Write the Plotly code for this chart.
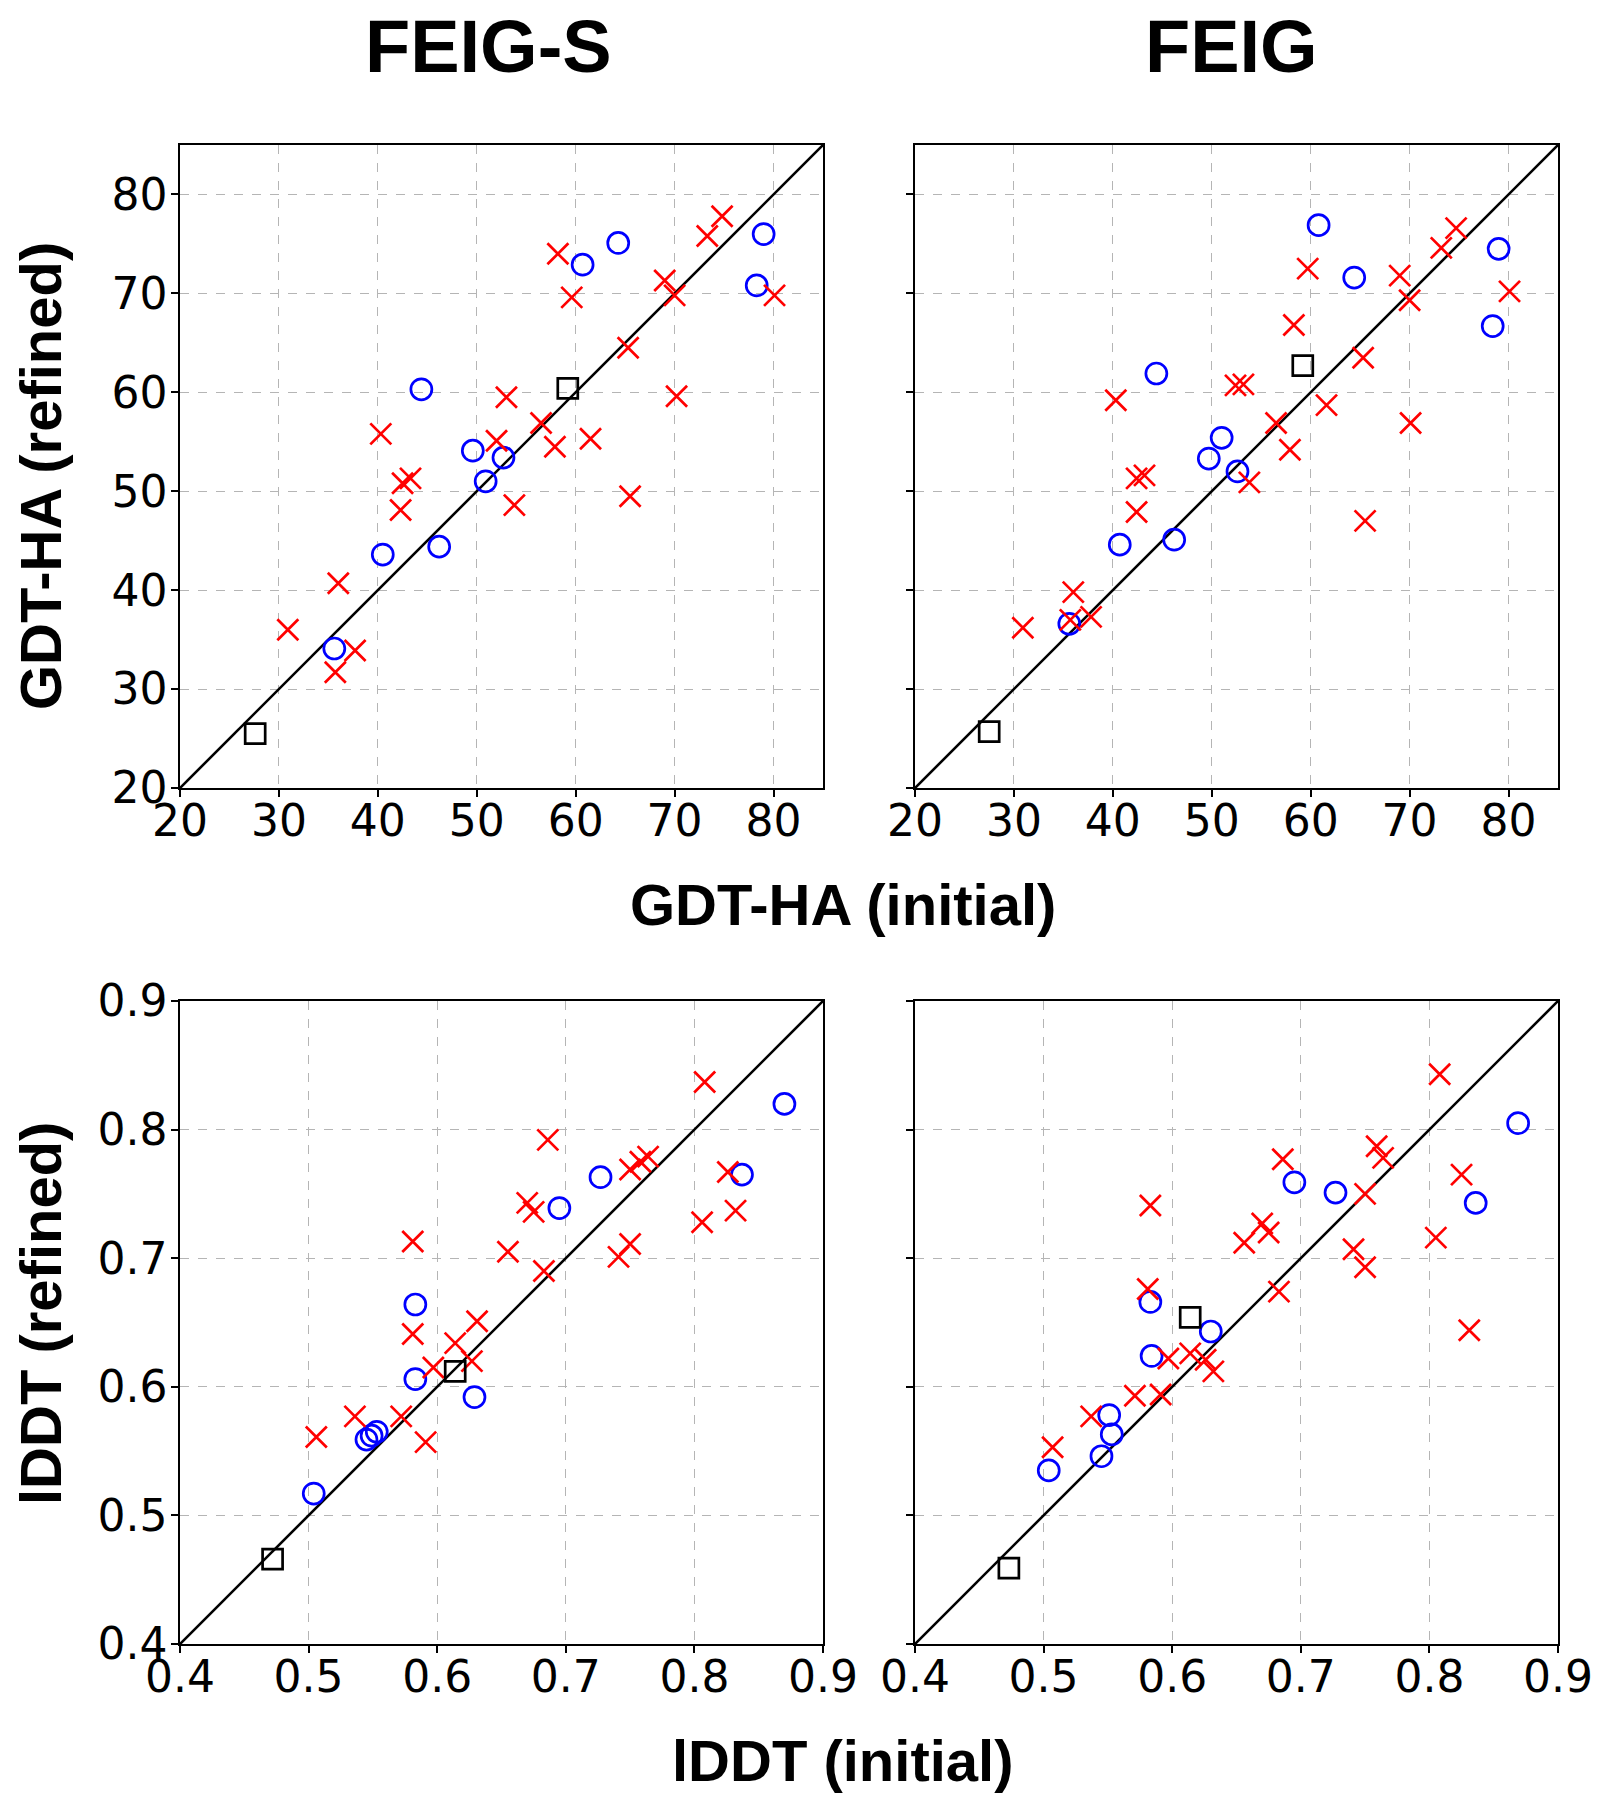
import plotly.graph_objects as go

# ---------------- DATA ----------------
# GDT-HA, FEIG-S
gdt_s_circle_x = [44.4, 49.6, 60.7, 64.3, 79.0, 78.3, 52.7, 50.9, 40.5, 46.2, 35.6]
gdt_s_circle_y = [60.3, 54.1, 72.9, 75.1, 76.0, 70.8, 53.4, 51.0, 43.6, 44.4, 34.1]
gdt_s_cross_x = [40.3, 58.2, 74.8, 73.3, 80.1, 59.6, 69.0, 70.0, 65.3, 70.2, 53.0, 56.5,
                 57.9, 61.5, 52.0, 42.5, 43.3, 42.3, 36.0, 30.9, 37.7, 35.7, 53.8, 65.5]
gdt_s_cross_y = [55.8, 74.0, 77.8, 75.8, 69.8, 69.6, 71.3, 69.8, 64.5, 59.6, 59.5, 56.9,
                 54.5, 55.3, 55.1, 50.8, 51.3, 48.1, 40.7, 36.0, 33.9, 31.7, 48.6, 49.5]
gdt_s_square_x = [59.2, 27.6]
gdt_s_square_y = [60.4, 25.5]

# GDT-HA, FEIG
gdt_f_circle_x = [44.4, 51.0, 49.7, 60.8, 64.4, 79.0, 78.4, 52.6, 46.2, 40.7, 35.6]
gdt_f_circle_y = [61.9, 55.4, 53.3, 76.9, 71.6, 74.5, 66.7, 52.0, 45.1, 44.6, 36.6]
gdt_f_cross_x = [40.3, 59.7, 69.0, 70.0, 74.7, 73.2, 80.1, 58.3, 65.3, 52.4, 53.2, 61.6,
                 56.5, 70.1, 57.9, 53.8, 65.5, 42.4, 43.2, 42.4, 36.0, 30.9, 37.8, 35.7]
gdt_f_cross_y = [59.2, 72.5, 71.8, 69.3, 76.6, 74.6, 70.2, 66.8, 63.5, 60.7, 60.8, 58.7,
                 56.9, 56.9, 54.2, 50.9, 47.0, 51.3, 51.6, 47.9, 39.8, 36.2, 37.3, 37.0]
gdt_f_square_x = [59.2, 27.5]
gdt_f_square_y = [62.7, 25.7]

# lDDT, FEIG-S
lddt_s_circle_x = [0.870, 0.837, 0.727, 0.695, 0.583, 0.583, 0.629, 0.545, 0.549, 0.553, 0.504]
lddt_s_circle_y = [0.820, 0.765, 0.763, 0.739, 0.664, 0.606, 0.592, 0.559, 0.562, 0.565, 0.517]
lddt_s_cross_x = [0.808, 0.686, 0.750, 0.758, 0.764, 0.826, 0.832, 0.806, 0.750, 0.741, 0.670, 0.675,
                  0.581, 0.655, 0.683, 0.631, 0.581, 0.614, 0.627, 0.597, 0.536, 0.572, 0.506, 0.591]
lddt_s_cross_y = [0.837, 0.792, 0.769, 0.775, 0.779, 0.767, 0.737, 0.728, 0.711, 0.701, 0.743, 0.736,
                  0.713, 0.705, 0.690, 0.651, 0.641, 0.634, 0.620, 0.615, 0.577, 0.577, 0.561, 0.557]
lddt_s_square_x = [0.614, 0.472]
lddt_s_square_y = [0.612, 0.466]

# lDDT, FEIG
lddt_f_circle_x = [0.869, 0.695, 0.727, 0.836, 0.583, 0.630, 0.584, 0.551, 0.553, 0.545, 0.504]
lddt_f_circle_y = [0.805, 0.759, 0.751, 0.743, 0.666, 0.643, 0.624, 0.578, 0.563, 0.546, 0.535]
lddt_f_cross_x = [0.808, 0.686, 0.759, 0.764, 0.750, 0.825, 0.741, 0.750, 0.805, 0.831, 0.583, 0.670,
                  0.675, 0.656, 0.683, 0.581, 0.597, 0.614, 0.626, 0.632, 0.571, 0.591, 0.537, 0.507]
lddt_f_cross_y = [0.843, 0.777, 0.787, 0.778, 0.750, 0.765, 0.707, 0.693, 0.716, 0.644, 0.741, 0.727,
                  0.720, 0.712, 0.674, 0.676, 0.622, 0.626, 0.621, 0.612, 0.593, 0.594, 0.577, 0.553]
lddt_f_square_x = [0.614, 0.473]
lddt_f_square_y = [0.654, 0.459]

gdt_range = [20, 85]
gdt_ticks = [20, 30, 40, 50, 60, 70, 80]
lddt_range = [0.4, 0.9]
lddt_ticks = [0.4, 0.5, 0.6, 0.7, 0.8, 0.9]
lddt_ticklabels = ["0.4", "0.5", "0.6", "0.7", "0.8", "0.9"]

col_titles = ["FEIG-S", "FEIG"]
x_labels = ["GDT-HA (initial)", "lDDT (initial)"]
y_labels = ["GDT-HA (refined)", "lDDT (refined)"]

# ---------------- FIGURE ----------------
W, H = 1598, 1800
fig = go.Figure()

panels = [
    (gdt_s_circle_x, gdt_s_circle_y, gdt_s_cross_x, gdt_s_cross_y, gdt_s_square_x, gdt_s_square_y, gdt_range),
    (gdt_f_circle_x, gdt_f_circle_y, gdt_f_cross_x, gdt_f_cross_y, gdt_f_square_x, gdt_f_square_y, gdt_range),
    (lddt_s_circle_x, lddt_s_circle_y, lddt_s_cross_x, lddt_s_cross_y, lddt_s_square_x, lddt_s_square_y, lddt_range),
    (lddt_f_circle_x, lddt_f_circle_y, lddt_f_cross_x, lddt_f_cross_y, lddt_f_square_x, lddt_f_square_y, lddt_range),
]

# pixel boxes (left, right, top, bottom)
col_px = [(180, 823), (915, 1558)]
row_px = [(145, 788), (1001, 1644)]

MS = 21
LW = 2.7
for i, (cx, cy, xx, xy, sx, sy, rng) in enumerate(panels):
    n = i + 1
    xa = "x" if n == 1 else f"x{n}"
    ya = "y" if n == 1 else f"y{n}"
    fig.add_trace(go.Scatter(x=rng, y=rng, mode="lines", line=dict(color="black", width=2.6),
                             xaxis=xa, yaxis=ya, showlegend=False, hoverinfo="skip"))
    fig.add_trace(go.Scatter(x=cx, y=cy, mode="markers", xaxis=xa, yaxis=ya, showlegend=False,
                             marker=dict(symbol="circle-open", size=MS, color="#0000ff",
                                         line=dict(width=LW, color="#0000ff"))))
    fig.add_trace(go.Scatter(x=xx, y=xy, mode="markers", xaxis=xa, yaxis=ya, showlegend=False,
                             marker=dict(symbol="x-thin-open", size=MS, color="#ff0000",
                                         line=dict(width=LW, color="#ff0000"))))
    fig.add_trace(go.Scatter(x=sx, y=sy, mode="markers", xaxis=xa, yaxis=ya, showlegend=False,
                             marker=dict(symbol="square-open", size=MS - 1, color="black",
                                         line=dict(width=LW, color="black"))))

tick_font = dict(family="DejaVu Sans", size=44, color="black")
layout = {}
for i in range(4):
    n = i + 1
    r, c = divmod(i, 2)
    l, rr = col_px[c]
    t, b = row_px[r]
    xdom = [l / W, rr / W]
    ydom = [1 - b / H, 1 - t / H]
    if r == 0:
        rng, tv, tt = gdt_range, gdt_ticks, [str(v) for v in gdt_ticks]
    else:
        rng, tv, tt = lddt_range, lddt_ticks, lddt_ticklabels
    common = dict(range=rng, tickmode="array", tickvals=tv, showline=True, mirror=True,
                  linecolor="black", linewidth=1.6, ticks="outside", ticklen=7, tickwidth=1.6,
                  tickcolor="black", showgrid=True, gridcolor="#b5b5b5", gridwidth=1,
                  griddash="dash", zeroline=False, tickfont=tick_font, automargin=False)
    xkey = "xaxis" if n == 1 else f"xaxis{n}"
    ykey = "yaxis" if n == 1 else f"yaxis{n}"
    ya_name = "y" if n == 1 else f"y{n}"
    xa_name = "x" if n == 1 else f"x{n}"
    layout[xkey] = dict(domain=xdom, anchor=ya_name, ticktext=tt, ticklabelstandoff=-14, **common)
    layout[ykey] = dict(domain=ydom, anchor=xa_name, ticktext=tt if c == 0 else [""] * len(tv),
                        showticklabels=(c == 0), ticklabelstandoff=-5, **common)

title_font = dict(family="Liberation Sans", size=74, color="black", weight="bold")
label_font = dict(family="Liberation Sans", size=58, color="black", weight="bold")
annotations = [
    dict(text=col_titles[0], x=488 / W, y=1 - 46 / H, font=title_font),
    dict(text=col_titles[1], x=1231 / W, y=1 - 46 / H, font=title_font),
    dict(text=x_labels[0], x=843 / W, y=1 - 904 / H, font=label_font),
    dict(text=x_labels[1], x=843 / W, y=1 - 1760 / H, font=label_font),
    dict(text=y_labels[0], x=40 / W, y=1 - 476 / H, font=label_font, textangle=-90),
    dict(text=y_labels[1], x=40 / W, y=1 - 1314 / H, font=label_font, textangle=-90),
]
for a in annotations:
    a.update(xref="paper", yref="paper", showarrow=False, xanchor="center", yanchor="middle")

fig.update_layout(width=W, height=H, margin=dict(l=0, r=0, t=0, b=0),
                  paper_bgcolor="white", plot_bgcolor="white",
                  annotations=annotations, **layout)

fig.write_html("out.html", config={"displayModeBar": False},
               post_script="document.body.style.margin='0px';")
